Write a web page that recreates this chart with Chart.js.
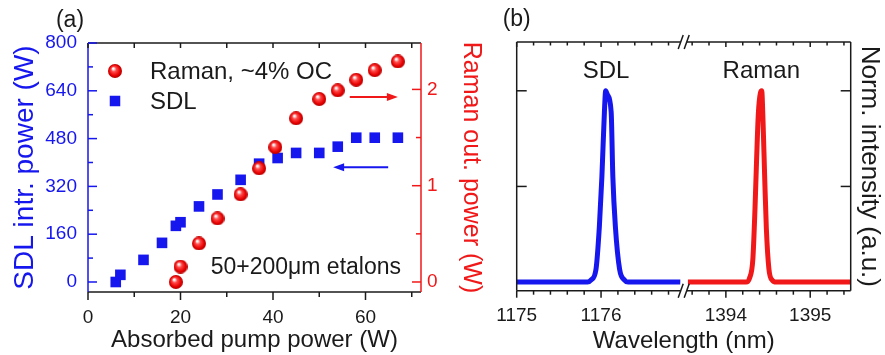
<!DOCTYPE html>
<html>
<head>
<meta charset="utf-8">
<script src="https://cdn.jsdelivr.net/npm/chart.js@4.4.1/dist/chart.umd.min.js"></script>
<style>
  body { margin: 0; background: #fff; }
  #wrap { position: relative; width: 885px; height: 355px; }
  #boxA { position: absolute; left: 0; top: 0; width: 500px; height: 355px; }
  #boxB { position: absolute; left: 440px; top: 0; width: 445px; height: 355px; }
</style>
</head>
<body>
<div id="wrap">
  <div id="boxA"><canvas id="chartA"></canvas></div>
  <div id="boxB"><canvas id="chartB"></canvas></div>
</div>
<script>
// (a) power curves
const pumpSDL = [6, 7, 12, 16, 19, 20, 24, 28, 33, 37, 41, 45, 50, 54, 58, 62, 67];
const sdlPower = [0, 24, 74, 131, 188, 200, 253, 293, 342, 396, 415, 432, 432, 453, 483, 483, 483];
const pumpRaman = [19, 20, 24, 28, 33, 37, 40.5, 45, 50, 54, 58, 62, 67];
const ramanPower = [0, 0.16, 0.40, 0.66, 0.91, 1.18, 1.40, 1.70, 1.90, 1.99, 2.10, 2.20, 2.29];
const pumpTicks = [0, 20, 40, 60];
const sdlTicks = [0, 160, 320, 480, 640, 800];
const ramanTicks = [0, 1, 2];

// (b) spectra
const sdlWl = [1175, 1175.84, 1175.88, 1175.94, 1175.98, 1176.01, 1176.04, 1176.055, 1176.075, 1176.12, 1176.14, 1176.17, 1176.22, 1176.28, 1176.32, 1176.94];
const sdlNorm = [0, 0, 0.01, 0.067, 0.29, 0.55, 0.89, 1.0, 0.98, 0.89, 0.55, 0.29, 0.067, 0.01, 0, 0];
const ramanWl = [1393.55, 1394.24, 1394.28, 1394.32, 1394.345, 1394.365, 1394.385, 1394.41, 1394.425, 1394.44, 1394.46, 1394.48, 1394.51, 1394.55, 1394.6, 1395.48];
const ramanNorm = [0, 0, 0.02, 0.12, 0.38, 0.65, 0.88, 0.99, 1.0, 0.85, 0.55, 0.28, 0.07, 0.01, 0, 0];
const wlTicksLeft = [1175, 1176];
const wlTicksRight = [1394, 1395];

const BLUE = '#1616ee';
const RED = '#f01818';
const INK = '#1a1a1a';
const FAMILY = '"Liberation Sans", Arial, sans-serif';

Chart.defaults.font.family = FAMILY;

function makeBall(r) {
  const c = document.createElement('canvas');
  c.width = c.height = 2 * r;
  const g = c.getContext('2d');
  const grad = g.createRadialGradient(r * 0.75, r * 0.65, r * 0.1, r, r, r);
  grad.addColorStop(0, '#ffffff');
  grad.addColorStop(0.3, '#ff4a4a');
  grad.addColorStop(0.75, '#e80000');
  grad.addColorStop(1, '#b00000');
  g.fillStyle = grad;
  g.beginPath();
  g.arc(r, r, r, 0, Math.PI * 2);
  g.fill();
  return c;
}
const ball = makeBall(7);

function seg(ctx, x1, y1, x2, y2, color, w) {
  ctx.strokeStyle = color;
  ctx.lineWidth = w || 1.5;
  ctx.beginPath();
  ctx.moveTo(x1, y1);
  ctx.lineTo(x2, y2);
  ctx.stroke();
}

function arrow(ctx, x1, y, x2, color) {
  const d = Math.sign(x2 - x1);
  seg(ctx, x1, y, x2 - d * 6, y, color, 2);
  ctx.fillStyle = color;
  ctx.beginPath();
  ctx.moveTo(x2, y);
  ctx.lineTo(x2 - d * 11, y - 4);
  ctx.lineTo(x2 - d * 11, y + 4);
  ctx.closePath();
  ctx.fill();
}

function text(ctx, str, x, y, size, color, align) {
  ctx.font = size + 'px ' + FAMILY;
  ctx.fillStyle = color;
  ctx.textAlign = align || 'center';
  ctx.textBaseline = 'middle';
  ctx.fillText(str, x, y);
}

const fixedTicks = (vals) => (s) => { s.ticks = vals.map((v) => ({ value: v })); };
const plainLabel = (v) => String(v);

const decorA = {
  id: 'decorA',
  afterDatasetsDraw(chart) {
    const ctx = chart.ctx, a = chart.chartArea;
    const sx = chart.scales.x, sy = chart.scales.y, sr = chart.scales.y2;
    ctx.save();
    seg(ctx, a.left, a.bottom, a.right, a.bottom, INK);
    seg(ctx, a.left, a.top, a.right, a.top, INK);
    seg(ctx, a.left, a.top, a.left, a.bottom, BLUE);
    seg(ctx, a.right, a.top, a.right, a.bottom, RED);
    for (let v = 0; v <= 70; v += 10) {
      const px = sx.getPixelForValue(v);
      seg(ctx, px, a.bottom, px, a.bottom + (v % 20 === 0 ? 8 : 5), INK);
      seg(ctx, px, a.top, px, a.top + 5, INK);
    }
    for (let v = 0; v <= 800; v += 80) {
      const py = sy.getPixelForValue(v);
      seg(ctx, a.left, py, a.left + (v % 160 === 0 ? 9 : 5), py, BLUE);
    }
    for (let v = 0; v <= 2; v += 0.5) {
      const py = sr.getPixelForValue(v);
      seg(ctx, a.right, py, a.right - (v % 1 === 0 ? 9 : 5), py, RED);
    }
    // arrows pointing to each axis
    arrow(ctx, sx.getPixelForValue(56.6), sr.getPixelForValue(1.92), sx.getPixelForValue(67.0), RED);
    arrow(ctx, sx.getPixelForValue(64.9), sy.getPixelForValue(384), sx.getPixelForValue(53.0), BLUE);
    // legend
    const lx = a.left + 27, ly = a.top + 28;
    ctx.drawImage(ball, lx - 7, ly - 7);
    ctx.fillStyle = BLUE;
    ctx.fillRect(lx - 5.25, ly + 30 - 5.25, 10.5, 10.5);
    const ds = chart.data.datasets;
    text(ctx, ds[0].label, lx + 35, ly + 1, 24, INK, 'left');
    text(ctx, ds[1].label, lx + 35, ly + 31, 24, INK, 'left');
    text(ctx, '50+200\u03bcm etalons', sx.getPixelForValue(47.1), sy.getPixelForValue(48), 23, INK);
    text(ctx, '(a)', 70, 21, 23, INK);
    ctx.restore();
  }
};

new Chart(document.getElementById('chartA'), {
  type: 'scatter',
  data: {
    datasets: [
      {
        label: 'Raman, ~4% OC',
        data: pumpRaman.map((x, i) => ({ x: x, y: ramanPower[i] })),
        yAxisID: 'y2',
        pointStyle: ball,
        pointRadius: 7,
        backgroundColor: RED,
        borderWidth: 0
      },
      {
        label: 'SDL',
        data: pumpSDL.map((x, i) => ({ x: x, y: sdlPower[i] })),
        yAxisID: 'y',
        pointStyle: 'rect',
        pointRadius: 7.5,
        backgroundColor: BLUE,
        borderWidth: 0
      }
    ]
  },
  options: {
    responsive: true,
    maintainAspectRatio: false,
    animation: false,
    devicePixelRatio: 1,
    layout: { padding: { top: 43, left: 0, right: 0, bottom: 0 } },
    plugins: { legend: { display: false }, tooltip: { enabled: false } },
    scales: {
      x: {
        type: 'linear', position: 'bottom', min: 0, max: 72,
        afterBuildTicks: fixedTicks(pumpTicks),
        ticks: { callback: plainLabel, color: INK, font: { size: 19 }, padding: 14, maxRotation: 0 },
        grid: { display: false, drawTicks: false }, border: { display: false },
        title: { display: true, text: 'Absorbed pump power (W)', color: INK, font: { size: 24 }, padding: 0 },
        afterFit: (s) => { s.height = 63; s.paddingLeft = 0; s.paddingRight = 0; }
      },
      y: {
        type: 'linear', position: 'left', min: -33.5, max: 800,
        afterBuildTicks: fixedTicks(sdlTicks),
        ticks: { callback: plainLabel, color: BLUE, font: { size: 19 }, padding: 11 },
        grid: { display: false, drawTicks: false }, border: { display: false },
        title: { display: true, text: 'SDL intr. power (W)', color: BLUE, font: { size: 28 }, padding: { top: 8, bottom: 0 } },
        afterFit: (s) => { s.width = 88; s.paddingTop = 0; s.paddingBottom = 0; }
      },
      y2: {
        type: 'linear', position: 'right', min: -0.104, max: 2.482,
        afterBuildTicks: fixedTicks(ramanTicks),
        ticks: { callback: plainLabel, color: RED, font: { size: 19 }, padding: 6 },
        grid: { display: false, drawTicks: false }, border: { display: false },
        title: { display: true, text: 'Raman out. power (W)', color: RED, font: { size: 25 }, padding: { top: 14, bottom: 0 } },
        afterFit: (s) => { s.width = 79; s.paddingTop = 0; s.paddingBottom = 0; }
      }
    }
  },
  plugins: [decorA]
});

const decorB = {
  id: 'decorB',
  afterDatasetsDraw(chart) {
    const ctx = chart.ctx, a = chart.chartArea;
    const s1 = chart.scales.x1, s2 = chart.scales.x2, sy = chart.scales.y;
    const mid = (s1.right + s2.left) / 2;
    const gL = mid - 3, gR = mid + 3;
    ctx.save();
    seg(ctx, a.left, a.top, a.left, a.bottom, INK);
    seg(ctx, a.right, a.top, a.right, a.bottom, INK);
    seg(ctx, a.left, a.top, gL, a.top, INK);
    seg(ctx, gR, a.top, a.right, a.top, INK);
    seg(ctx, a.left, a.bottom, gL, a.bottom, INK);
    seg(ctx, gR, a.bottom, a.right, a.bottom, INK);
    // axis break marks
    [a.top, a.bottom].forEach((y) => {
      ctx.fillStyle = '#fff';
      ctx.fillRect(gL, y - 8, gR - gL, 16);
      seg(ctx, mid - 5.5, y + 7, mid - 0.5, y - 7, INK, 1.5);
      seg(ctx, mid + 0.5, y + 7, mid + 5.5, y - 7, INK, 1.5);
    });
    const minor = [];
    for (let k = 0; k < 10; k++) {
      minor.push([s1, 1175 + k * 0.2]);
      minor.push([s2, 1393.6 + k * 0.2]);
    }
    minor.forEach(([s, v]) => {
      const px = s.getPixelForValue(v);
      const major = Math.abs(v - Math.round(v)) < 1e-6;
      seg(ctx, px, a.bottom, px, a.bottom + (major ? 7 : 4), INK);
      seg(ctx, px, a.top, px, a.top + (major ? 5 : 3.5), INK);
    });
    [0.5, 1].forEach((v) => {
      const py = sy.getPixelForValue(v);
      seg(ctx, a.left, py, a.left + 10, py, INK);
      seg(ctx, a.right, py, a.right - 10, py, INK);
    });
    text(ctx, chart.data.datasets[0].label, s1.getPixelForValue(1176.06), sy.getPixelForValue(1.10), 24, INK);
    text(ctx, chart.data.datasets[1].label, s2.getPixelForValue(1394.42), sy.getPixelForValue(1.10), 24, INK);
    text(ctx, 'Wavelength (nm)', (a.left + a.right) / 2, 341, 24, INK);
    text(ctx, '(b)', a.left, 20, 23, INK);
    ctx.restore();
  }
};

const wlAxis = (min, max, labels) => ({
  type: 'linear', position: 'bottom', stack: 'wl', stackWeight: 1, min: min, max: max,
  afterBuildTicks: fixedTicks(labels),
  ticks: { callback: plainLabel, color: INK, font: { size: 19 }, padding: 14, maxRotation: 0, autoSkip: false },
  grid: { display: false, drawTicks: false }, border: { display: false },
  afterFit: (s) => { s.height = 64.3; s.paddingLeft = 0; s.paddingRight = 0; }
});

new Chart(document.getElementById('chartB'), {
  type: 'line',
  data: {
    datasets: [
      {
        label: 'SDL',
        data: sdlWl.map((x, i) => ({ x: x, y: sdlNorm[i] })),
        xAxisID: 'x1', yAxisID: 'y',
        borderColor: BLUE, borderWidth: 5, pointRadius: 0,
        borderJoinStyle: 'round', cubicInterpolationMode: 'monotone', fill: false
      },
      {
        label: 'Raman',
        data: ramanWl.map((x, i) => ({ x: x, y: ramanNorm[i] })),
        xAxisID: 'x2', yAxisID: 'y',
        borderColor: RED, borderWidth: 5, pointRadius: 0,
        borderJoinStyle: 'round', cubicInterpolationMode: 'monotone', fill: false
      }
    ]
  },
  options: {
    responsive: true,
    maintainAspectRatio: false,
    animation: false,
    devicePixelRatio: 1,
    layout: { padding: { top: 42, left: 76.7, right: 0, bottom: 0 } },
    plugins: { legend: { display: false }, tooltip: { enabled: false } },
    scales: {
      x1: wlAxis(1175, 1176.98, wlTicksLeft),
      x2: wlAxis(1393.5, 1395.48, wlTicksRight),
      y: {
        type: 'linear', position: 'right', min: -0.045, max: 1.255,
        ticks: { display: false },
        grid: { display: false, drawTicks: false }, border: { display: false },
        title: { display: true, text: 'Norm. intensity (a.u.)', color: INK, font: { size: 26 }, padding: { top: 0, bottom: 0 } },
        afterFit: (s) => { s.width = 34.3; s.paddingTop = 0; s.paddingBottom = 0; }
      }
    }
  },
  plugins: [decorB]
});
</script>
</body>
</html>
